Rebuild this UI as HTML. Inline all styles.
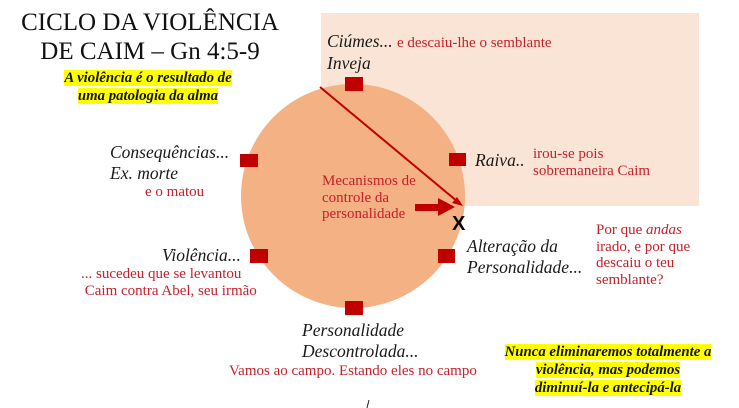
<!DOCTYPE html>
<html><head><meta charset="utf-8"><style>
body{margin:0;width:739px;height:408px;background:#fff;position:relative;overflow:hidden;font-family:"Liberation Serif",serif}
.t{position:absolute;white-space:nowrap}
.k{color:#1a1a1a;font-style:italic;font-size:17.5px;line-height:21px}
.r{color:#c8202a;font-size:15px;line-height:16.5px}
.y{background:#ffff00;font-weight:bold;font-style:italic;font-size:14.8px;line-height:16px;color:#111}
</style></head><body>
<svg width="739" height="408" style="position:absolute;left:0;top:0">
<rect x="321" y="13" width="378" height="193" fill="#fae4d6"/>
<circle cx="353" cy="196" r="112" fill="#f4b183"/>
<line x1="320" y1="87" x2="458" y2="202" stroke="#c00000" stroke-width="2"/>
<polygon points="463,206 452,203 457,197" fill="#c00000"/>
<rect x="415" y="204" width="26" height="7" fill="#c00000"/>
<polygon points="438,198 455,207 438,216" fill="#c00000"/>
<g fill="#c00000">
<rect x="345" y="77" width="18" height="14"/>
<rect x="240" y="154" width="18" height="13"/>
<rect x="449" y="153" width="17" height="13"/>
<rect x="250" y="249" width="18" height="14"/>
<rect x="438" y="249" width="17" height="14"/>
<rect x="345" y="301" width="18" height="14"/>
</g>
<line x1="369" y1="400" x2="367" y2="408" stroke="#222" stroke-width="1"/>
</svg>
<div class="t" style="left:15px;top:8px;font-size:25px;line-height:29px;color:#111;text-align:center;width:270px">CICLO DA VIOLÊNCIA<br>DE CAIM – Gn 4:5-9</div>
<div class="t" style="left:48px;top:69px;text-align:center;width:200px"><span class="y">A violência é o resultado de</span><br><span class="y">uma patologia da alma</span></div>
<div class="t k" style="left:327px;top:31px">Ciúmes... <span class="r" style="font-style:normal">e descaiu-lhe o semblante</span></div>
<div class="t k" style="left:327px;top:53px">Inveja</div>
<div class="t k" style="left:110px;top:142px">Consequências...<br>Ex. morte</div>
<div class="t r" style="left:145px;top:184px">e o matou</div>
<div class="t k" style="left:475px;top:150px">Raiva..</div>
<div class="t r" style="left:533px;top:146px">irou-se pois<br>sobremaneira Caim</div>
<div class="t r" style="left:322px;top:173px">Mecanismos de<br>controle da<br>personalidade</div>
<div class="t" style="left:452px;top:213px;font-family:'Liberation Sans',sans-serif;font-weight:bold;font-size:20px;color:#000">X</div>
<div class="t k" style="left:467px;top:236px">Alteração da<br>Personalidade...</div>
<div class="t r" style="left:596px;top:222px">Por que <i>andas</i><br>irado, e por que<br>descaiu o teu<br>semblante?</div>
<div class="t k" style="left:162px;top:245px">Violência...</div>
<div class="t r" style="left:81px;top:266px">... sucedeu que se levantou<br>&nbsp;Caim contra Abel, seu irmão</div>
<div class="t k" style="left:302px;top:320px">Personalidade<br>Descontrolada...</div>
<div class="t r" style="left:229px;top:363px">Vamos ao campo. Estando eles no campo</div>
<div class="t" style="left:494px;top:343px;text-align:center;width:228px"><span class="y">Nunca eliminaremos totalmente a</span><br><span class="y">violência, mas podemos</span><br><span class="y">diminuí-la e antecipá-la</span></div>
</body></html>
